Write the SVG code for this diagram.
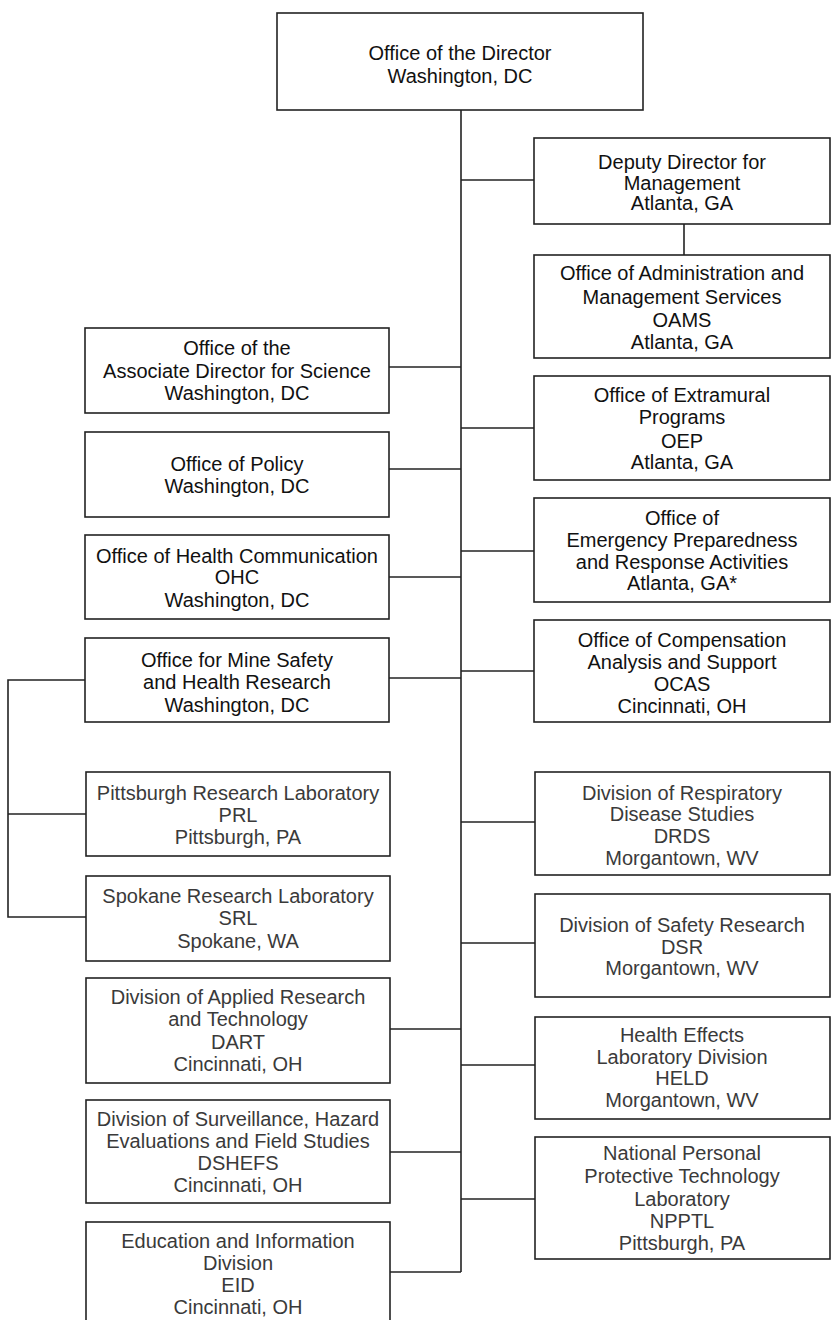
<svg xmlns="http://www.w3.org/2000/svg" width="831" height="1320" viewBox="0 0 831 1320">
<style>
.box{fill:#fff;stroke:#222;stroke-width:1.6}
.t{font-family:"Liberation Sans",Arial,sans-serif;font-size:20px;text-anchor:middle;fill:#111}
.g{fill:#3a3a3a}
.c{stroke:#222;stroke-width:1.6;fill:none}
</style>
<rect x="0" y="0" width="831" height="1320" fill="#fff"/>
<g id="connectors">
<path class="c" d="M461 110V1272"/>
<path class="c" d="M461 180H534"/>
<path class="c" d="M684 224V255"/>
<path class="c" d="M389 367H461"/>
<path class="c" d="M461 428H534"/>
<path class="c" d="M389 469H461"/>
<path class="c" d="M461 551H534"/>
<path class="c" d="M389 577H461"/>
<path class="c" d="M461 671H534"/>
<path class="c" d="M389 678H461"/>
<path class="c" d="M85 680H8V917H86"/>
<path class="c" d="M8 814H86"/>
<path class="c" d="M461 822H535"/>
<path class="c" d="M461 943H535"/>
<path class="c" d="M390 1029H461"/>
<path class="c" d="M461 1065H535"/>
<path class="c" d="M390 1152H461"/>
<path class="c" d="M461 1199H535"/>
<path class="c" d="M390 1272H461"/>
</g>
<g id="director">
<rect class="box" x="277" y="13" width="366" height="97"/>
<text class="t" x="460" y="60">Office of the Director</text>
<text class="t" x="460" y="83">Washington, DC</text>
</g>
<g id="deputy">
<rect class="box" x="534" y="138" width="296" height="86"/>
<text class="t" x="682" y="169">Deputy Director for</text>
<text class="t" x="682" y="190">Management</text>
<text class="t" x="682" y="210">Atlanta, GA</text>
</g>
<g id="oams">
<rect class="box" x="534" y="255" width="296" height="103"/>
<text class="t" x="682" y="280">Office of Administration and</text>
<text class="t" x="682" y="304">Management Services</text>
<text class="t" x="682" y="327">OAMS</text>
<text class="t" x="682" y="349">Atlanta, GA</text>
</g>
<g id="oep">
<rect class="box" x="534" y="376" width="296" height="104"/>
<text class="t" x="682" y="402">Office of Extramural</text>
<text class="t" x="682" y="424">Programs</text>
<text class="t" x="682" y="448">OEP</text>
<text class="t" x="682" y="469">Atlanta, GA</text>
</g>
<g id="oepra">
<rect class="box" x="534" y="498" width="296" height="104"/>
<text class="t" x="682" y="525">Office of</text>
<text class="t" x="682" y="547">Emergency Preparedness</text>
<text class="t" x="682" y="569">and Response Activities</text>
<text class="t" x="682" y="590">Atlanta, GA*</text>
</g>
<g id="ocas">
<rect class="box" x="534" y="620" width="296" height="102"/>
<text class="t" x="682" y="647">Office of Compensation</text>
<text class="t" x="682" y="669">Analysis and Support</text>
<text class="t" x="682" y="691">OCAS</text>
<text class="t" x="682" y="713">Cincinnati, OH</text>
</g>
<g id="drds">
<rect class="box" x="535" y="772" width="295" height="103"/>
<text class="t g" x="682" y="800">Division of Respiratory</text>
<text class="t g" x="682" y="821">Disease Studies</text>
<text class="t g" x="682" y="843">DRDS</text>
<text class="t g" x="682" y="865">Morgantown, WV</text>
</g>
<g id="dsr">
<rect class="box" x="535" y="894" width="295" height="103"/>
<text class="t g" x="682" y="932">Division of Safety Research</text>
<text class="t g" x="682" y="954">DSR</text>
<text class="t g" x="682" y="975">Morgantown, WV</text>
</g>
<g id="held">
<rect class="box" x="535" y="1017" width="295" height="102"/>
<text class="t g" x="682" y="1042">Health Effects</text>
<text class="t g" x="682" y="1064">Laboratory Division</text>
<text class="t g" x="682" y="1085">HELD</text>
<text class="t g" x="682" y="1107">Morgantown, WV</text>
</g>
<g id="npptl">
<rect class="box" x="535" y="1137" width="295" height="122"/>
<text class="t g" x="682" y="1160">National Personal</text>
<text class="t g" x="682" y="1183">Protective Technology</text>
<text class="t g" x="682" y="1206">Laboratory</text>
<text class="t g" x="682" y="1228">NPPTL</text>
<text class="t g" x="682" y="1250">Pittsburgh, PA</text>
</g>
<g id="ads">
<rect class="box" x="85" y="328" width="304" height="85"/>
<text class="t" x="237" y="355">Office of the</text>
<text class="t" x="237" y="378">Associate Director for Science</text>
<text class="t" x="237" y="400">Washington, DC</text>
</g>
<g id="policy">
<rect class="box" x="85" y="432" width="304" height="85"/>
<text class="t" x="237" y="471">Office of Policy</text>
<text class="t" x="237" y="493">Washington, DC</text>
</g>
<g id="ohc">
<rect class="box" x="85" y="535" width="304" height="84"/>
<text class="t" x="237" y="563">Office of Health Communication</text>
<text class="t" x="237" y="584">OHC</text>
<text class="t" x="237" y="607">Washington, DC</text>
</g>
<g id="mine">
<rect class="box" x="85" y="638" width="304" height="84"/>
<text class="t" x="237" y="667">Office for Mine Safety</text>
<text class="t" x="237" y="689">and Health Research</text>
<text class="t" x="237" y="712">Washington, DC</text>
</g>
<g id="prl">
<rect class="box" x="86" y="772" width="304" height="84"/>
<text class="t g" x="238" y="800">Pittsburgh Research Laboratory</text>
<text class="t g" x="238" y="822">PRL</text>
<text class="t g" x="238" y="844">Pittsburgh, PA</text>
</g>
<g id="srl">
<rect class="box" x="86" y="876" width="304" height="85"/>
<text class="t g" x="238" y="903">Spokane Research Laboratory</text>
<text class="t g" x="238" y="925">SRL</text>
<text class="t g" x="238" y="948">Spokane, WA</text>
</g>
<g id="dart">
<rect class="box" x="86" y="978" width="304" height="105"/>
<text class="t g" x="238" y="1004">Division of Applied Research</text>
<text class="t g" x="238" y="1026">and Technology</text>
<text class="t g" x="238" y="1049">DART</text>
<text class="t g" x="238" y="1071">Cincinnati, OH</text>
</g>
<g id="dshefs">
<rect class="box" x="86" y="1100" width="304" height="103"/>
<text class="t g" x="238" y="1126">Division of Surveillance, Hazard</text>
<text class="t g" x="238" y="1148">Evaluations and Field Studies</text>
<text class="t g" x="238" y="1170">DSHEFS</text>
<text class="t g" x="238" y="1192">Cincinnati, OH</text>
</g>
<g id="eid">
<rect class="box" x="86" y="1222" width="304" height="110"/>
<text class="t g" x="238" y="1248">Education and Information</text>
<text class="t g" x="238" y="1270">Division</text>
<text class="t g" x="238" y="1292">EID</text>
<text class="t g" x="238" y="1314">Cincinnati, OH</text>
</g>
</svg>
